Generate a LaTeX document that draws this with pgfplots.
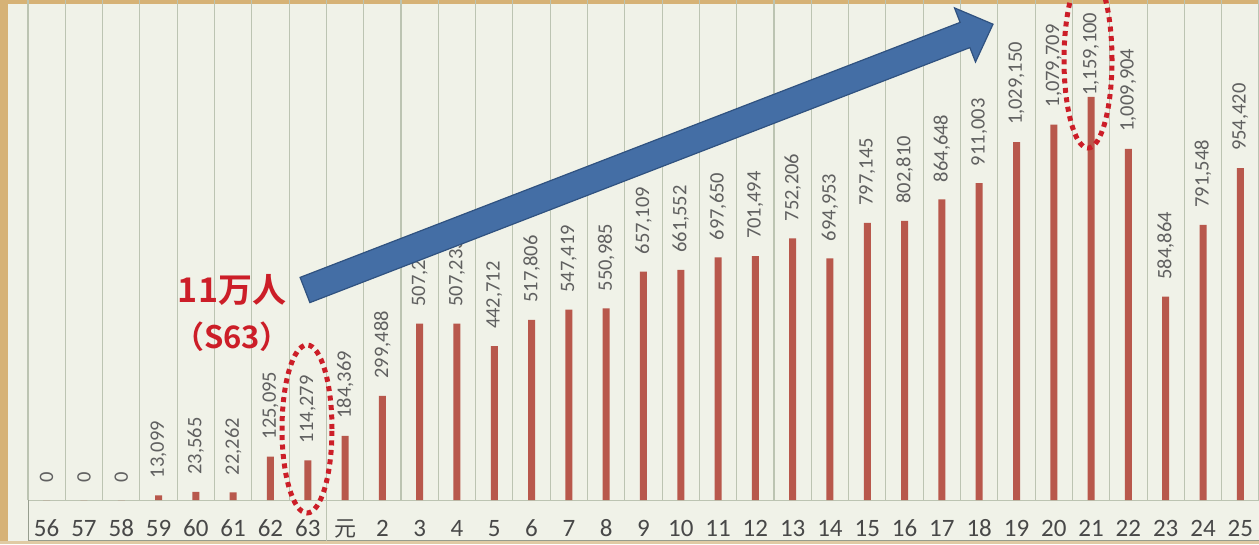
\documentclass[border=0pt]{standalone}
\usepackage{pgfplots}
\usepackage{pgfplotstable}
\pgfplotsset{compat=1.18}
\usepackage{fontspec}
\setmainfont{Carlito}
\newfontfamily\jp{Noto Sans CJK JP}[BoldFont={Noto Sans CJK JP Bold}]

\definecolor{bg}{RGB}{240,242,232}
\definecolor{gridc}{RGB}{188,196,178}
\definecolor{barc}{RGB}{184,88,76}
\definecolor{lab}{RGB}{96,96,96}
\definecolor{tickc}{RGB}{72,72,72}
\definecolor{tanc}{RGB}{214,178,118}
\definecolor{annred}{RGB}{204,30,40}
\definecolor{arrowfill}{RGB}{68,110,165}
\definecolor{arrowdraw}{RGB}{48,82,128}

\pgfplotstableread{
x y label
0 0 0
1 0 0
2 0 0
3 13099 13,099
4 23565 23,565
5 22262 22,262
6 125095 125,095
7 114279 114,279
8 184369 184,369
9 299488 299,488
10 507244 507,244
11 507233 507,233
12 442712 442,712
13 517806 517,806
14 547419 547,419
15 550985 550,985
16 657109 657,109
17 661552 661,552
18 697650 697,650
19 701494 701,494
20 752206 752,206
21 694953 694,953
22 797145 797,145
23 802810 802,810
24 864648 864,648
25 911003 911,003
26 1029150 1,029,150
27 1079709 1,079,709
28 1159100 {}
29 1009904 1,009,904
30 584864 584,864
31 791548 791,548
32 954420 954,420
}\data

\begin{document}
\begin{tikzpicture}
\path[use as bounding box] (0,0) rectangle (1259pt,544pt);
\clip (0,0) rectangle (1259pt,544pt);
\fill[bg] (0,0) rectangle (1259pt,544pt);
\fill[tanc] (0,0) rectangle (8pt,544pt);
\fill[tanc] (0,540pt) rectangle (1259pt,544pt);
\fill[tanc!60!bg] (0,0) rectangle (1259pt,3pt);
\begin{axis}[
  at={(28pt,44pt)}, anchor=south west,
  scale only axis, width=1231pt, height=500pt,
  xmin=-0.5, xmax=32.5, ymin=0, ymax=1438000,
  clip=false,
  axis line style={gridc, line width=1pt},
  xtick={0,...,32},
  xticklabels={56,57,58,59,60,61,62,63,{\jp\fontsize{22}{22}\selectfont 元},2,3,4,5,6,7,8,9,10,11,12,13,14,15,16,17,18,19,20,21,22,23,24,25},
  xticklabel style={anchor=base, inner sep=0pt, yshift=-36.5pt, font=\fontsize{25}{25}\selectfont, text=tickc},
  major tick length=0pt,
  minor xtick={-0.5,0.5,...,32.5},
  minor tick length=0pt,
  xminorgrids,
  minor grid style={gridc, line width=1.1pt},
  ytick=\empty,
  ybar, bar width=7pt,
  point meta=explicit symbolic,
  nodes near coords,
  every node near coord/.append style={rotate=90, anchor=west, inner xsep=17pt, inner ysep=0pt, font=\fontsize{20.5}{20.5}\selectfont, text=lab},
]
\addplot[fill=barc, draw=none] table[x=x, y=y, meta=label] {\data};
\node[rotate=90, anchor=west, inner xsep=1pt, inner ysep=0pt, font=\fontsize{20.5}{20.5}\selectfont, text=lab] at (axis cs:28,1159100) {1,159,100};
\end{axis}
% label row frame
\draw[gridc!80!black, line width=1pt] (28pt,3.5pt) -- (28pt,44pt);
\draw[gridc!80!black, line width=1pt] (28pt,3.5pt) -- (1259pt,3.5pt);
\draw[gridc, line width=1pt] (326.5pt,3.5pt) -- (326.5pt,44pt);
% arrow
\filldraw[fill=arrowfill, draw=arrowdraw, line width=1.2pt, line join=miter]
  (300.1pt,266.6pt) -- (960.1pt,521.6pt) -- (954.5pt,536.1pt) -- (993pt,519.8pt)
  -- (975.5pt,482.0pt) -- (969.9pt,496.4pt) -- (309.9pt,241.4pt) -- cycle;
% ellipses
\draw[annred, line width=5pt, dash pattern=on 5pt off 4.5pt] (307pt,115pt) ellipse [x radius=25pt, y radius=84pt];
\draw[annred, line width=5pt, dash pattern=on 5pt off 4.5pt] (1088pt,484pt) ellipse [x radius=24pt, y radius=88pt];
% text
\node[text=annred, font=\jp\bfseries\fontsize{34}{34}\selectfont, inner sep=0pt] at (232pt,254pt) {11万人};
\node[text=annred, font=\jp\bfseries\fontsize{31}{31}\selectfont, inner sep=0pt] at (232pt,207pt) {（S63）};
\end{tikzpicture}
\end{document}
